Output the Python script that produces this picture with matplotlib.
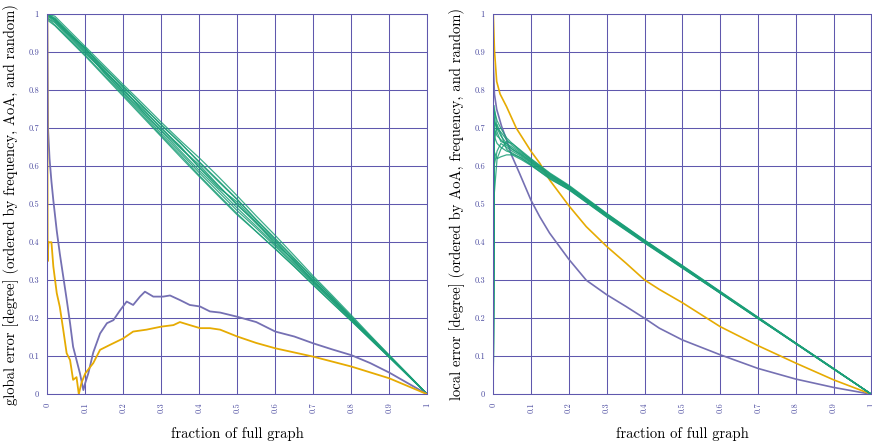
import numpy as np
import matplotlib
matplotlib.use('Agg')
import matplotlib.pyplot as plt

plt.rcParams['font.family'] = 'serif'
plt.rcParams['font.serif'] = ['cmr10', 'DejaVu Serif']
plt.rcParams['axes.formatter.use_mathtext'] = True

GREEN = '#1b9e77'
ORANGE = '#e6ab02'
PURPLE = '#7570b3'
GRID = '#5f58ad'
TICK = '#4b4ba0'

# --- left panel: global error ---
g_freq_x = [0, 0.002, 0.006, 0.011, 0.016, 0.025, 0.033, 0.042, 0.051, 0.06, 0.068, 0.077,
            0.086, 0.095, 0.1, 0.108, 0.121, 0.139, 0.157, 0.174, 0.191, 0.209, 0.226, 0.244,
            0.257, 0.279, 0.305, 0.323, 0.349, 0.375, 0.402, 0.428, 0.455, 0.5, 0.55, 0.6,
            0.65, 0.7, 0.75, 0.8, 0.85, 0.9, 1.0]
g_freq_y = [1.0, 0.70, 0.62, 0.56, 0.51, 0.43, 0.37, 0.31, 0.25, 0.187, 0.125, 0.09,
            0.055, 0.011, 0.03, 0.055, 0.11, 0.16, 0.187, 0.195, 0.22, 0.244, 0.235, 0.257,
            0.27, 0.257, 0.257, 0.26, 0.248, 0.235, 0.231, 0.218, 0.215, 0.204, 0.19, 0.165,
            0.152, 0.134, 0.118, 0.103, 0.082, 0.057, 0.0]

g_aoa_x = [0, 0.001, 0.003, 0.006, 0.011, 0.016, 0.025, 0.033, 0.042, 0.051, 0.06, 0.068,
           0.077, 0.083, 0.09, 0.1, 0.121, 0.139, 0.165, 0.2, 0.226, 0.261, 0.3, 0.332,
           0.349, 0.375, 0.402, 0.428, 0.455, 0.5, 0.55, 0.6, 0.7, 0.8, 0.9, 1.0]
g_aoa_y = [1.0, 0.35, 0.40, 0.40, 0.40, 0.336, 0.266, 0.23, 0.17, 0.108, 0.09, 0.038,
           0.045, 0.0, 0.03, 0.055, 0.082, 0.117, 0.13, 0.147, 0.165, 0.17, 0.178, 0.182,
           0.19, 0.182, 0.174, 0.174, 0.17, 0.152, 0.135, 0.121, 0.099, 0.073, 0.042, 0.0]

g_rand_x = [0, 0.02, 0.05, 0.1, 0.15, 0.2, 0.25, 0.3, 0.35, 0.4, 0.45, 0.5, 0.55, 0.6,
            0.65, 0.7, 0.75, 0.8, 0.85, 0.9, 0.95, 1.0]
g_rand_runs = [
    [1.0, 0.988, 0.958, 0.909, 0.858, 0.810, 0.760, 0.708, 0.661, 0.612, 0.563, 0.513, 0.460, 0.410, 0.358, 0.306, 0.256, 0.204, 0.152, 0.102, 0.051, 0],
    [0.99, 0.972, 0.942, 0.893, 0.840, 0.788, 0.735, 0.681, 0.630, 0.576, 0.525, 0.475, 0.428, 0.383, 0.336, 0.287, 0.240, 0.193, 0.145, 0.097, 0.048, 0],
    [1.0, 0.995, 0.965, 0.915, 0.865, 0.815, 0.766, 0.716, 0.668, 0.622, 0.573, 0.522, 0.469, 0.418, 0.365, 0.311, 0.260, 0.208, 0.155, 0.103, 0.052, 0],
    [0.995, 0.98, 0.95, 0.900, 0.847, 0.795, 0.744, 0.692, 0.641, 0.589, 0.540, 0.490, 0.442, 0.393, 0.344, 0.295, 0.246, 0.197, 0.148, 0.099, 0.050, 0],
    [1.0, 0.99, 0.960, 0.910, 0.860, 0.809, 0.758, 0.710, 0.662, 0.610, 0.560, 0.512, 0.458, 0.407, 0.356, 0.305, 0.255, 0.203, 0.152, 0.101, 0.051, 0],
    [0.985, 0.970, 0.940, 0.890, 0.837, 0.784, 0.731, 0.678, 0.625, 0.573, 0.522, 0.472, 0.428, 0.382, 0.336, 0.288, 0.240, 0.193, 0.145, 0.097, 0.049, 0],
    [1.0, 0.983, 0.953, 0.903, 0.854, 0.800, 0.750, 0.702, 0.650, 0.598, 0.549, 0.500, 0.449, 0.400, 0.350, 0.301, 0.250, 0.200, 0.151, 0.100, 0.050, 0],
    [0.995, 0.987, 0.952, 0.912, 0.850, 0.805, 0.746, 0.694, 0.648, 0.604, 0.550, 0.497, 0.453, 0.395, 0.353, 0.296, 0.252, 0.199, 0.148, 0.100, 0.050, 0],
    [0.99, 0.978, 0.946, 0.897, 0.851, 0.799, 0.754, 0.699, 0.653, 0.596, 0.544, 0.506, 0.452, 0.404, 0.348, 0.299, 0.249, 0.201, 0.150, 0.098, 0.050, 0],
    [1.0, 0.984, 0.956, 0.906, 0.845, 0.792, 0.740, 0.686, 0.636, 0.583, 0.533, 0.483, 0.437, 0.389, 0.341, 0.292, 0.245, 0.196, 0.147, 0.099, 0.049, 0],
]

# --- right panel: local error ---
l_aoa_x = [0, 0.003, 0.009, 0.018, 0.035, 0.061, 0.1, 0.123, 0.149, 0.2, 0.246, 0.3,
           0.351, 0.4, 0.439, 0.5, 0.6, 0.7, 0.8, 0.9, 1.0]
l_aoa_y = [1.0, 0.906, 0.823, 0.79, 0.757, 0.70, 0.639, 0.608, 0.564, 0.496, 0.441, 0.389,
           0.345, 0.301, 0.276, 0.241, 0.178, 0.128, 0.082, 0.038, 0.0]

l_freq_x = [0, 0.003, 0.009, 0.022, 0.035, 0.048, 0.07, 0.1, 0.123, 0.149, 0.2, 0.246,
            0.3, 0.351, 0.4, 0.439, 0.5, 0.6, 0.7, 0.8, 0.9, 1.0]
l_freq_y = [0.87, 0.79, 0.75, 0.705, 0.67, 0.63, 0.58, 0.51, 0.467, 0.424, 0.355, 0.30,
            0.262, 0.231, 0.20, 0.174, 0.143, 0.104, 0.068, 0.04, 0.018, 0.0]

l_rand_x = [0, 0.002, 0.01, 0.02, 0.035, 0.05, 0.075, 0.1, 0.15, 0.2, 0.3, 0.4, 0.5,
            0.6, 0.7, 0.8, 0.9, 1.0]
l_rand_runs = [
    [0, 0.76, 0.70, 0.68, 0.66, 0.645, 0.63, 0.612, 0.575, 0.545, 0.472, 0.402, 0.336, 0.269, 0.201, 0.134, 0.067, 0],
    [0, 0.68, 0.66, 0.65, 0.64, 0.635, 0.62, 0.605, 0.570, 0.540, 0.468, 0.400, 0.333, 0.267, 0.200, 0.133, 0.067, 0],
    [0, 0.72, 0.70, 0.69, 0.67, 0.655, 0.635, 0.618, 0.580, 0.548, 0.475, 0.405, 0.338, 0.270, 0.202, 0.135, 0.068, 0],
    [0, 0.60, 0.64, 0.66, 0.65, 0.64, 0.625, 0.608, 0.572, 0.542, 0.470, 0.401, 0.334, 0.267, 0.200, 0.134, 0.067, 0],
    [0, 0.75, 0.72, 0.70, 0.675, 0.66, 0.64, 0.620, 0.582, 0.550, 0.476, 0.406, 0.339, 0.271, 0.203, 0.135, 0.068, 0],
    [0, 0.64, 0.62, 0.625, 0.63, 0.63, 0.617, 0.602, 0.568, 0.538, 0.466, 0.398, 0.332, 0.266, 0.199, 0.133, 0.066, 0],
    [0, 0.70, 0.68, 0.67, 0.655, 0.645, 0.628, 0.610, 0.574, 0.544, 0.471, 0.403, 0.335, 0.268, 0.201, 0.134, 0.067, 0],
    [0, 0.73, 0.69, 0.665, 0.66, 0.65, 0.632, 0.614, 0.577, 0.546, 0.473, 0.404, 0.337, 0.269, 0.202, 0.134, 0.067, 0],
    [0, 0.52, 0.62, 0.645, 0.665, 0.66, 0.638, 0.616, 0.579, 0.547, 0.474, 0.403, 0.336, 0.268, 0.201, 0.134, 0.067, 0],
    [0, 0.66, 0.71, 0.685, 0.645, 0.632, 0.622, 0.603, 0.566, 0.539, 0.467, 0.399, 0.333, 0.266, 0.200, 0.133, 0.066, 0],
]

ticks = np.round(np.arange(0, 1.01, 0.1), 1)
tick_labels = ['0', '0.1', '0.2', '0.3', '0.4', '0.5', '0.6', '0.7', '0.8', '0.9', '1']

fig = plt.figure(figsize=(8.72, 4.42), dpi=100)
ax1 = fig.add_axes([0.0542, 0.108, 0.4358, 0.8597])
ax2 = fig.add_axes([0.5657, 0.108, 0.4336, 0.8597])


def style(ax, ylabel, label_x):
    ax.set_xlim(0, 1)
    ax.set_ylim(0, 1)
    ax.set_xticks(ticks)
    ax.set_yticks(ticks)
    ax.set_xticklabels(tick_labels, rotation=90)
    ax.set_yticklabels(tick_labels)
    ax.tick_params(length=0, labelsize=6, labelcolor=TICK, pad=6)
    ax.grid(True, color=GRID, lw=0.75)
    ax.set_axisbelow(True)
    for s in ax.spines.values():
        s.set_color(GRID)
        s.set_linewidth(0.75)
    ax.set_xlabel('fraction of full graph', fontsize=10.5)
    ax.xaxis.set_label_coords(0.5, -0.085)
    ax.set_ylabel(ylabel, fontsize=10.5)
    ax.yaxis.set_label_coords(label_x, 0.5)


for run in g_rand_runs:
    ax1.plot(g_rand_x, run, color=GREEN, lw=0.9, alpha=0.85)
ax1.plot(g_freq_x, g_freq_y, color=PURPLE, lw=1.3)
ax1.plot(g_aoa_x, g_aoa_y, color=ORANGE, lw=1.3)
style(ax1, 'global error [degree] (ordered by frequency, AoA, and random)', -0.075)

ax2.plot(l_freq_x, l_freq_y, color=PURPLE, lw=1.2)
ax2.plot(l_aoa_x, l_aoa_y, color=ORANGE, lw=1.2)
for run in l_rand_runs:
    ax2.plot(l_rand_x, run, color=GREEN, lw=0.9, alpha=0.85)
style(ax2, 'local error [degree] (ordered by AoA, frequency, and random)', -0.075)

fig.savefig('out.png', dpi=100)
